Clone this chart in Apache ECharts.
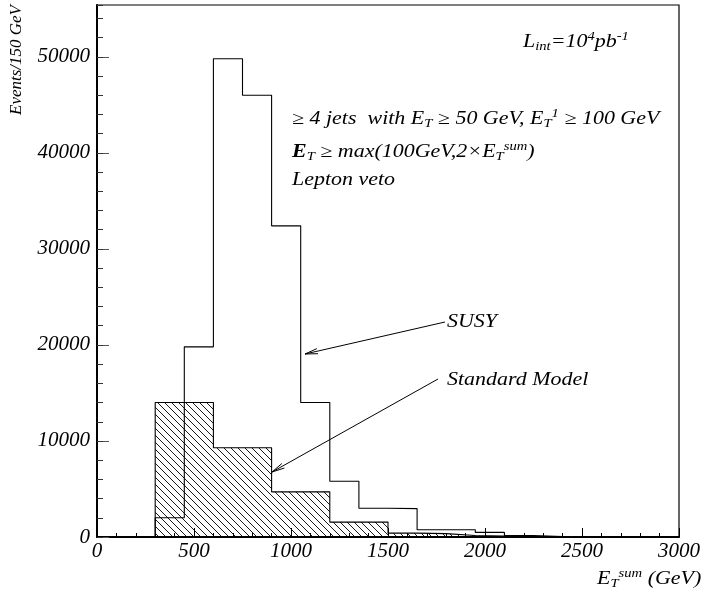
<!DOCTYPE html>
<html>
<head>
<meta charset="utf-8">
<script src="https://cdn.jsdelivr.net/npm/echarts@6/dist/echarts.min.js"></script>
<style>html,body{margin:0;padding:0;background:#fff;}#c{width:704px;height:595px;}</style>
</head>
<body>
<div id="c"></div>
<script>
// ---- data ----
const binStart = 300;      // GeV, lower edge of first bin
const binWidth = 150;      // GeV
const susyCounts = [2000, 19800, 49800, 46000, 32400, 14000, 5800, 3000, 2950, 750, 750, 480, 150, 50];
const smCounts   = [14000, 14000, 9300, 9300, 4700, 4700, 1550, 1550, 400, 350, 150, 100];
const xTicks = [0, 500, 1000, 1500, 2000, 2500, 3000];
const yTicks = [0, 10000, 20000, 30000, 40000, 50000];

function stepData(counts) {
  const pts = [[binStart, 0]];
  counts.forEach((c, i) => pts.push([binStart + i * binWidth, c]));
  pts.push([binStart + counts.length * binWidth, 0]);
  return pts;
}

// hatch pattern "\\\\"
function hatch() {
  const s = 7, cv = document.createElement('canvas');
  cv.width = s; cv.height = s;
  const g = cv.getContext('2d');
  g.strokeStyle = '#000'; g.lineWidth = 0.9;
  g.beginPath();
  g.moveTo(-1, -1); g.lineTo(s + 1, s + 1);
  g.moveTo(-1, s - 1); g.lineTo(1, s + 1);
  g.moveTo(s - 1, -1); g.lineTo(s + 1, 1);
  g.stroke();
  return cv;
}

const FONT = 'Liberation Serif';
const SX = 1.22; // horizontal stretch of the annotation text
const chart = echarts.init(document.getElementById('c'), null, {renderer: 'canvas'});

function arrow(x1, y1, x2, y2) {
  const a = Math.atan2(y2 - y1, x2 - x1), L = 13, w = 0.2;
  const p1 = [x2 - L * Math.cos(a - w), y2 - L * Math.sin(a - w)];
  const p2 = [x2 - L * Math.cos(a + w), y2 - L * Math.sin(a + w)];
  return [
    {type: 'line', shape: {x1, y1, x2, y2}, style: {stroke: '#000', lineWidth: 1}},
    {type: 'polyline', shape: {points: [p1, [x2, y2], p2]}, style: {stroke: '#000', lineWidth: 1, fill: null}}
  ];
}

const base = {fontFamily: FONT, fontStyle: 'italic', fontSize: 18, fill: '#000'};
const rich = {
  i: {fontFamily: FONT, fontStyle: 'italic', fontSize: 18, color: '#000', lineHeight: 26, verticalAlign: 'middle'},
  b: {fontFamily: FONT, fontStyle: 'italic', fontWeight: 'bold', fontSize: 18, color: '#000', lineHeight: 26, verticalAlign: 'middle'},
  sub: {fontFamily: FONT, fontStyle: 'italic', fontSize: 12, color: '#000', lineHeight: 26, verticalAlign: 'bottom', padding: [0,0,2,0]},
  sup: {fontFamily: FONT, fontStyle: 'italic', fontSize: 12, color: '#000', lineHeight: 26, verticalAlign: 'top', padding: [2,0,0,0]}
};
function txt(x, y, text, extra) {
  return Object.assign({type: 'text', x: x, y: y, scaleX: SX, style: {text: text, rich: rich, verticalAlign: 'middle'}}, extra || {});
}

const labelStyle = {color: '#000', fontFamily: FONT, fontStyle: 'italic', fontSize: 21};
const option = {
  animation: false,
  backgroundColor: '#fff',
  grid: {left: 97, right: 25, top: 5, bottom: 58, show: true, borderColor: '#000', borderWidth: 1.2, backgroundColor: 'transparent'},
  xAxis: [{
    type: 'value', min: xTicks[0], max: xTicks[xTicks.length - 1], interval: 500, position: 'bottom',
    axisLine: {show: true, onZero: false, lineStyle: {color: '#000', width: 2}},
    axisTick: {show: true, inside: true, length: 9, lineStyle: {color: '#000', width: 1}},
    splitLine: {show: false},
    axisLabel: Object.assign({margin: 4, formatter: v => String(v)}, labelStyle)
  }, {
    type: 'value', min: xTicks[0], max: xTicks[xTicks.length - 1], interval: 100, position: 'bottom', offset: 0,
    axisLine: {show: false, onZero: false},
    axisTick: {show: true, inside: true, length: 4, lineStyle: {color: '#000', width: 1}},
    splitLine: {show: false},
    axisLabel: {show: false}
  }],
  yAxis: [{
    type: 'value', min: 0, max: 55400, interval: 10000,
    axisLine: {show: true, onZero: false, lineStyle: {color: '#000', width: 2}},
    axisTick: {show: true, inside: true, length: 12, lineStyle: {color: '#555', width: 1}},
    splitLine: {show: false},
    axisLabel: Object.assign({margin: 7, showMaxLabel: false,
      formatter: v => yTicks.indexOf(v) >= 0 ? String(v) : ''}, labelStyle)
  }, {
    type: 'value', min: 0, max: 55400, interval: 2000, position: 'left', offset: 0,
    axisLine: {show: false, onZero: false},
    axisTick: {show: true, inside: true, length: 6, lineStyle: {color: '#333', width: 1}},
    splitLine: {show: false},
    axisLabel: {show: false}
  }],
  series: [{
    name: 'Standard Model', type: 'line', step: 'end', symbol: 'none', data: stepData(smCounts),
    lineStyle: {color: '#000', width: 1.1},
    areaStyle: {color: {image: hatch(), repeat: 'repeat'}, opacity: 1},
    z: 2
  }, {
    name: 'SUSY', type: 'line', step: 'end', symbol: 'none', data: stepData(susyCounts),
    lineStyle: {color: '#000', width: 1.1},
    z: 3
  }],
  graphic: [
    {type: 'text', x: 17, y: 60, rotation: Math.PI / 2,
      style: Object.assign({}, base, {text: 'Events/150 GeV', fontSize: 17, align: 'center', verticalAlign: 'middle'})},
    txt(597, 579, '{i|E}{sub|T}{sup|sum}{i| (GeV)}'),
    txt(523, 42, '{i|L}{sub|int}{i|=10}{sup|4}{i|pb}{sup|-1}'),
    txt(292, 119, '{i|≥ 4 jets  with E}{sub|T}{i| ≥ 50 GeV, E}{sub|T}{sup|1}{i| ≥ 100 GeV}'),
    txt(292, 152, '{b|E}{sub|T}{i| ≥ max(100GeV,2×E}{sub|T}{sup|sum}{i|)}'),
    txt(292, 180, '{i|Lepton veto}'),
    txt(447, 322, '{i|SUSY}'),
    txt(447, 380, '{i|Standard Model}')
  ].concat(arrow(445, 322, 305, 354)).concat(arrow(438, 379, 272, 472))
};
chart.setOption(option);
</script>
</body>
</html>
